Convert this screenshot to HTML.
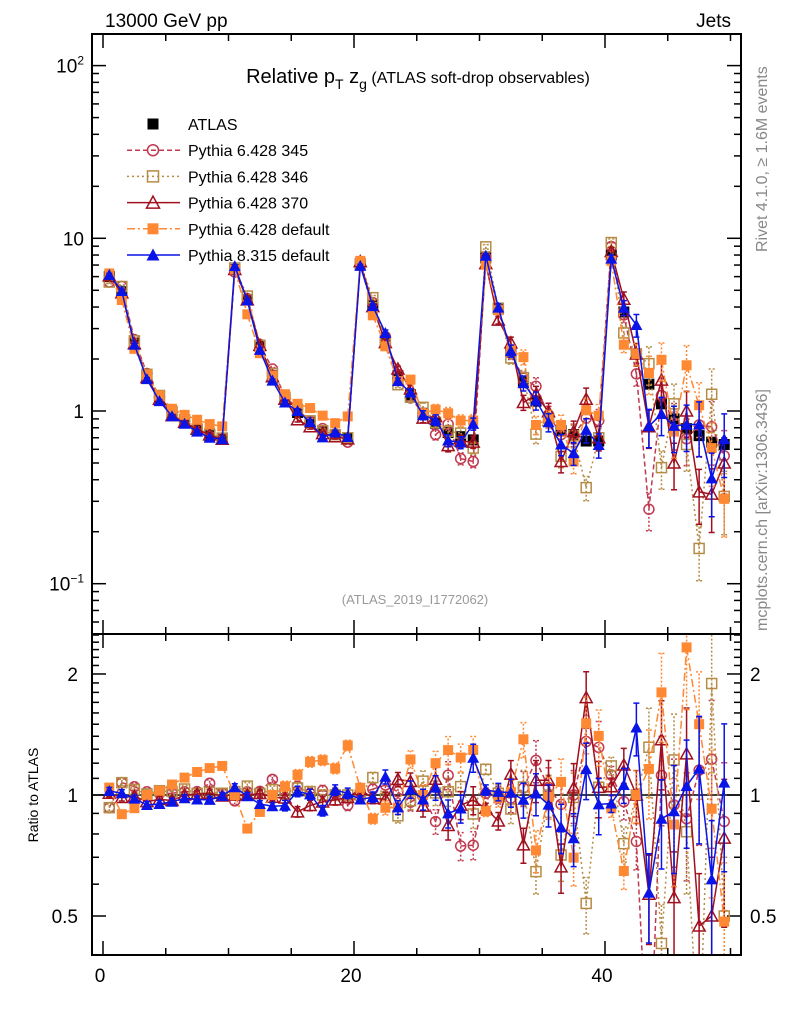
<!DOCTYPE html>
<html><head><meta charset="utf-8">
<style>
html,body{margin:0;padding:0;background:#fff;width:786px;height:1024px;overflow:hidden;}
svg{display:block;font-family:"Liberation Sans",sans-serif;}
</style></head>
<body>
<svg id="chart" width="786" height="1024" viewBox="0 0 786 1024" xmlns="http://www.w3.org/2000/svg">
  <defs>
    <clipPath id="clipMain"><rect x="92" y="34" width="649" height="600"/></clipPath>
    <clipPath id="clipRatio"><rect x="92" y="634" width="649" height="321"/></clipPath>
  </defs>
  <text x="105" y="27" font-size="19">13000 GeV pp</text>
  <text x="731" y="27" font-size="19" text-anchor="end">Jets</text>
  <text x="418" y="83" font-size="20" text-anchor="middle">Relative p<tspan font-size="14" dy="6">T</tspan><tspan dy="-6"> z</tspan><tspan font-size="14" dy="6">g</tspan><tspan dy="-6" font-size="16"> (ATLAS soft-drop observables)</tspan></text>
  <text x="415" y="604" font-size="13" fill="#999" text-anchor="middle">(ATLAS_2019_I1772062)</text>
  <text transform="translate(767,252) rotate(-90)" font-size="16" fill="#888">Rivet 4.1.0, ≥ 1.6M events</text>
  <text transform="translate(767,631) rotate(-90)" font-size="16" fill="#888">mcplots.cern.ch [arXiv:1306.3436]</text>
  <text transform="translate(38,795) rotate(-90)" font-size="14" text-anchor="middle">Ratio to ATLAS</text>
  <g id="axes"></g>
  <g id="mainMarks" clip-path="url(#clipMain)"></g>
  <g id="ratioMarks" clip-path="url(#clipRatio)"></g>
  <g id="legend"></g>
  <rect x="92" y="34" width="649" height="600" fill="none" stroke="#000" stroke-width="2"/>
  <rect x="92" y="634" width="649" height="321" fill="none" stroke="#000" stroke-width="2"/>
</svg>
<script>
const bins = [0,1,2,3,4,5,6,7,8,9,10,11,12,13,14,15,16,17,18,19,20,21,22,23,24,25,26,27,28,29,30,31,32,33,34,35,36,37,38,39,40,41,42,43,44,45,46,47,48,49];
const atlas = [6.0,4.9,2.47,1.62,1.2,0.97,0.86,0.78,0.72,0.69,6.6,4.4,2.38,1.6,1.19,0.98,0.86,0.77,0.73,0.70,7.1,4.1,2.55,1.6,1.24,0.97,0.85,0.75,0.71,0.68,7.7,3.9,2.2,1.49,1.14,0.91,0.77,0.73,0.67,0.67,8.0,3.74,2.14,1.43,1.1,0.9,0.79,0.72,0.66,0.64];
const py345 = [5.58,5.26,2.59,1.65,1.21,0.98,0.876,0.795,0.77,0.697,6.38,4.48,2.43,1.75,1.22,1.03,0.868,0.79,0.737,0.66,7.17,4.24,2.70,1.63,1.19,0.97,0.73,0.84,0.53,0.51,7.77,3.9,2.16,1.55,1.39,0.95,0.73,0.73,0.91,0.88,8.97,3.6,1.64,0.27,1.23,0.85,0.69,0.83,0.81,0.55];
const py346 = [5.58,5.26,2.55,1.63,1.23,0.99,0.89,0.787,0.731,0.697,6.73,4.63,2.40,1.65,1.20,1.02,0.877,0.77,0.73,0.70,7.1,4.53,2.50,1.42,1.20,1.05,0.86,0.764,0.745,0.61,8.92,3.94,2.03,1.56,0.735,0.91,0.546,0.72,0.36,0.70,9.45,2.83,2.14,1.88,0.47,1.10,0.64,0.16,1.25,0.32];
const py370 = [6.06,4.83,2.45,1.56,1.17,0.94,0.86,0.784,0.727,0.686,6.6,4.4,2.40,1.58,1.17,0.89,0.81,0.74,0.71,0.69,7.33,4.02,2.49,1.75,1.34,0.91,0.93,0.63,0.67,0.66,7.13,3.36,2.48,1.12,1.24,0.99,0.51,0.76,1.17,0.70,8.39,4.44,2.14,0.81,1.51,0.50,1.00,0.34,0.33,0.50];
const pydef = [6.26,4.39,2.29,1.62,1.23,1.03,0.95,0.89,0.84,0.815,6.6,3.63,2.16,1.6,1.25,1.10,1.04,0.94,0.85,0.93,7.4,3.58,2.37,1.49,1.52,0.97,1.02,0.97,0.88,0.88,7.02,3.83,2.24,2.05,0.83,0.9,0.83,0.51,1.01,0.94,7.41,2.42,2.14,1.66,1.98,0.76,1.84,1.08,0.61,0.31];
const py8 = [6.14,4.95,2.42,1.53,1.14,0.933,0.844,0.76,0.70,0.686,6.9,4.37,2.26,1.50,1.12,1.0,0.863,0.704,0.751,0.707,6.92,4.05,2.83,1.49,1.28,0.946,0.887,0.675,0.657,0.842,7.92,3.97,2.23,1.45,1.15,0.861,0.64,0.57,0.777,0.635,7.62,3.96,3.15,0.817,0.96,0.82,0.832,0.837,0.407,0.687];
const mcRelErr = [0.02,0.02,0.02,0.02,0.02,0.02,0.02,0.02,0.02,0.02,0.02,0.02,0.02,0.02,0.03,0.03,0.03,0.03,0.03,0.03,0.02,0.03,0.04,0.04,0.05,0.06,0.07,0.08,0.08,0.08,0.03,0.05,0.08,0.1,0.12,0.12,0.14,0.15,0.16,0.16,0.05,0.1,0.15,0.25,0.25,0.3,0.3,0.35,0.4,0.4];
const xTickLabels = ["0","20","40"];
const mainTickLabels = ["10<tspan dy='-8' font-size='12'>2</tspan>","10","1","10<tspan dy='-8' font-size='12'>−1</tspan>"];
const mainTickValues = [100,10,1,0.1];
const ratioTickValues = [2,1,0.5];
const ratioTickLabels = ["2","1","0.5"];

const NS = "http://www.w3.org/2000/svg";
const X0 = 103, XS = 12.55;
function xPx(v){ return X0 + XS*v; }
function yMain(v){ return 411 - 172.7*Math.log10(v); }
function yRatio(r){ return 795 - 402*Math.log10(r); }
function mk(tag, attrs, parent){
  const e = document.createElementNS(NS, tag);
  for (const k in attrs) e.setAttribute(k, attrs[k]);
  parent.appendChild(e);
  return e;
}
const axes = document.getElementById('axes');
const mainG = document.getElementById('mainMarks');
const ratioG = document.getElementById('ratioMarks');
const legG = document.getElementById('legend');

for (let v = 0; v <= 50; v += 5) {
  const major = (v % 20 === 0);
  const L = major ? 14 : 7;
  for (const yb of [955, 634]) {
    const t = mk('line', {x1:xPx(v), x2:xPx(v), y1:yb, y2:yb-L, stroke:'#000', 'stroke-width':1.5}, axes);
    
    
    const t2 = mk('line', {x1:xPx(v), x2:xPx(v), y1:(yb===955?634:34), y2:(yb===955?634:34)+L, stroke:'#000', 'stroke-width':1.5}, axes);
    
    
  }
}
xTickLabels.forEach((s, i) => {
  const t = mk('text', {x:xPx(i*20)-3, y:982, 'font-size':19, 'text-anchor':'middle'}, axes);
  t.textContent = s;
  
  
});
for (let d = -2; d <= 2; d++) {
  for (let m = 1; m <= 9; m++) {
    const v = m * Math.pow(10, d);
    const y = yMain(v);
    if (y < 34 || y > 634) continue;
    const L = m === 1 ? 14 : 7;
    const a = mk('line', {x1:92, x2:92+L, y1:y, y2:y, stroke:'#000', 'stroke-width':1.5}, axes);
    
    
    const b = mk('line', {x1:741, x2:741-L, y1:y, y2:y, stroke:'#000', 'stroke-width':1.5}, axes);
    
    
  }
}
mainTickValues.forEach((v, i) => {
  const t = mk('text', {x:84, y:yMain(v)+7, 'font-size':19, 'text-anchor':'end'}, axes);
  t.innerHTML = mainTickLabels[i];
  
  
});
for (let k = 4; k <= 25; k++) {
  const r = k/10;
  const y = yRatio(r);
  if (y < 634 || y > 955) continue;
  const L = (k===5||k===10||k===20) ? 14 : 7;
  const a = mk('line', {x1:92, x2:92+L, y1:y, y2:y, stroke:'#000', 'stroke-width':1.5}, axes);
  
  
  const b = mk('line', {x1:741, x2:741-L, y1:y, y2:y, stroke:'#000', 'stroke-width':1.5}, axes);
  
  
}
ratioTickValues.forEach((v, i) => {
  const t = mk('text', {x:78, y:yRatio(v)+7, 'font-size':19, 'text-anchor':'end'}, axes);
  t.textContent = ratioTickLabels[i];
  
  
  const t2 = mk('text', {x:750, y:yRatio(v)+7, 'font-size':19}, axes);
  t2.textContent = ratioTickLabels[i];
  
  
});
const one = mk('line', {x1:92, x2:741, y1:yRatio(1), y2:yRatio(1), stroke:'#000', 'stroke-width':1.5}, axes);



function marker(g, kind, color, x, y, s) {
  let e;
  if (kind === 'sqfill') e = mk('rect', {x:x-s, y:y-s, width:2*s, height:2*s, fill:color}, g);
  else if (kind === 'sqopen') e = mk('rect', {x:x-s, y:y-s, width:2*s, height:2*s, fill:'none', stroke:color, 'stroke-width':1.5}, g);
  else if (kind === 'circ') e = mk('circle', {cx:x, cy:y, r:s, fill:'none', stroke:color, 'stroke-width':1.5}, g);
  else if (kind === 'triopen') e = mk('path', {d:`M${x},${y-s-1}L${x+s+1},${y+s}L${x-s-1},${y+s}Z`, fill:'none', stroke:color, 'stroke-width':1.5}, g);
  else e = mk('path', {d:`M${x},${y-s-1}L${x+s+1},${y+s}L${x-s-1},${y+s}Z`, fill:color}, g);
  return e;
}

// clip a vertical range [top,bot] for segment; returns null if fully outside
function clipSeg(x1, y1, x2, y2, top, bot) {
  if ((y1 < top && y2 < top) || (y1 > bot && y2 > bot)) return null;
  function at(yt){ return x1 + (x2-x1)*(yt-y1)/(y2-y1); }
  let a = [x1, y1], b = [x2, y2];
  if (y1 > bot) a = [at(bot), bot]; else if (y1 < top) a = [at(top), top];
  if (y2 > bot) b = [at(bot), bot]; else if (y2 < top) b = [at(top), top];
  return [a, b];
}

const series = [
  {name:'pythia-6428-345', vals:py345, color:'#c0394f', dash:'5,3', kind:'circ', label:'Pythia 6.428 345'},
  {name:'pythia-6428-346', vals:py346, color:'#b58c45', dash:'2,3', kind:'sqopen', label:'Pythia 6.428 346'},
  {name:'pythia-6428-370', vals:py370, color:'#a0101e', dash:'', kind:'triopen', label:'Pythia 6.428 370'},
  {name:'pythia-6428-default', vals:pydef, color:'#ff8833', dash:'8,3,2,3', kind:'sqfill', label:'Pythia 6.428 default'},
  {name:'pythia-8315-default', vals:py8, color:'#0a14e6', dash:'', kind:'trifill', label:'Pythia 8.315 default'}
];

bins.forEach((b, i) => {
  const m = marker(mainG, 'sqfill', '#000', xPx(b+0.5), yMain(atlas[i]), 5.5);
  
  
});

series.forEach(s => {
  [['main', mainG, 34, 634], ['ratio', ratioG, 634, 955]].forEach(([panel, g, top, bot]) => {
    const f = panel === 'main' ? yMain : yRatio;
    const ys = bins.map((b, i) => panel === 'main' ? yMain(s.vals[i]) : yRatio(s.vals[i]/atlas[i]));
    let d = '';
    for (let i = 0; i < bins.length - 1; i++) {
      const c = clipSeg(xPx(bins[i]+0.5), ys[i], xPx(bins[i+1]+0.5), ys[i+1], top, bot);
      if (c) d += `M${c[0][0].toFixed(1)},${c[0][1].toFixed(1)}L${c[1][0].toFixed(1)},${c[1][1].toFixed(1)}`;
    }
    const pl = mk('path', {d:d, fill:'none', stroke:s.color, 'stroke-width':1.5, 'stroke-dasharray':s.dash}, g);
    
    
    bins.forEach((b, i) => {
      const x = xPx(b+0.5);
      const v = panel === 'main' ? s.vals[i] : s.vals[i]/atlas[i];
      const yl = Math.min(bot, Math.max(top, f(v*(1-mcRelErr[i]))));
      const yh = Math.min(bot, Math.max(top, f(v*(1+mcRelErr[i]))));
      if (yl === yh) return;
      const eb = mk('path', {d:`M${x},${yl}V${yh}M${x-3},${yl}H${x+3}M${x-3},${yh}H${x+3}`, stroke:s.color, 'stroke-width':1.5, 'stroke-dasharray':s.dash?'2,2':'', fill:'none'}, g);
      
      
      if (ys[i] < top - 6 || ys[i] > bot + 6) return;
      const m = marker(g, s.kind, s.color, x, ys[i], 5);
      
      
    });
  });
});

const legRows = [{label:'ATLAS', kind:'sqfill', color:'#000', dash:null}].concat(series);
legRows.forEach((s, i) => {
  const y = 124 + i*26.2;
  const g = mk('g', {}, legG);
  
  
  if (s.dash !== null) {
    const l = mk('line', {x1:127, x2:180, y1:y, y2:y, stroke:s.color, 'stroke-width':1.5, 'stroke-dasharray':s.dash}, g);
    
    
  }
  const m = marker(g, s.kind, s.color, 153, y, 5.5);
  
  
  const t = mk('text', {x:188, y:y+6, 'font-size':16}, g);
  t.textContent = s.label;
  
  
});
</script>
</body></html>
